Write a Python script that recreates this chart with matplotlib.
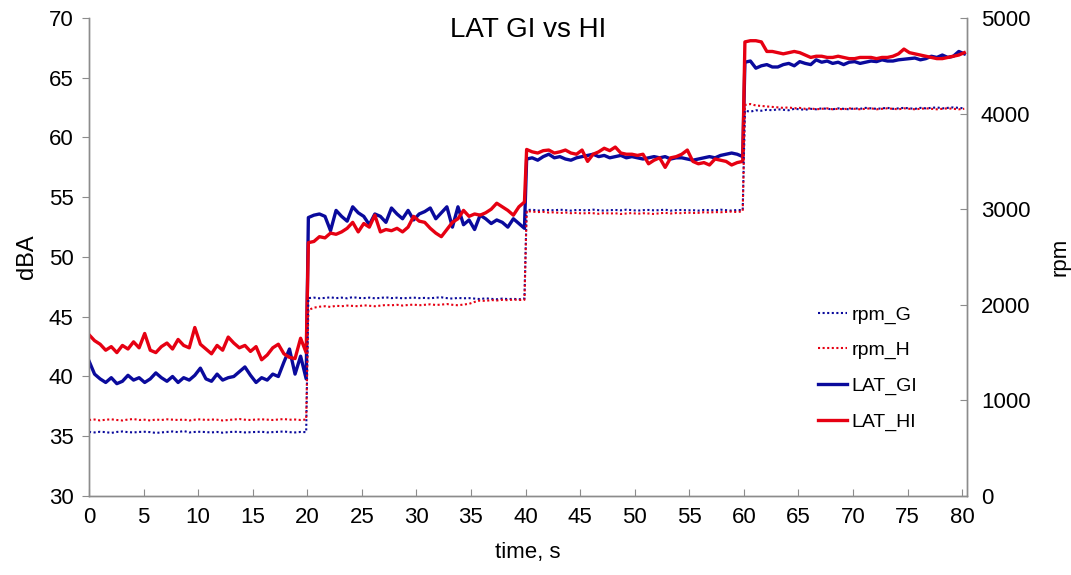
import numpy as np
import matplotlib
matplotlib.use("Agg")
import matplotlib.pyplot as plt

plt.rcParams['font.family'] = ['Liberation Sans', 'DejaVu Sans']

# time axis: four 20 s steps, ~0.5 s sampling inside each step
time_s = np.concatenate([
    np.linspace(0.0, 19.9, 40),
    np.linspace(20.1, 39.9, 40),
    np.linspace(40.1, 59.9, 40),
    np.linspace(60.1, 80.2, 41),
])

# LAT_GI (dBA)
lat_gi = [
    41.3, 40.2, 39.8, 39.5, 39.9, 39.4, 39.6, 40.1, 39.7, 39.9,
    39.5, 39.8, 40.3, 39.9, 39.6, 40.0, 39.5, 39.9, 39.7, 40.1,
    40.7, 39.8, 39.6, 40.2, 39.7, 39.9, 40.0, 40.4, 40.8, 40.1,
    39.5, 39.9, 39.7, 40.2, 40.0, 41.2, 42.3, 40.2, 41.7, 39.8,
    53.3, 53.5, 53.6, 53.4, 52.2, 53.9, 53.4, 53.0, 54.2, 53.7,
    53.4, 52.7, 53.6, 53.4, 52.9, 54.1, 53.6, 53.2, 53.9, 53.1,
    53.6, 53.8, 54.1, 53.2, 53.7, 54.2, 52.5, 54.2, 52.7, 53.1,
    52.3, 53.5, 53.2, 52.8, 53.1, 52.9, 52.5, 53.2, 52.8, 52.4,
    58.2, 58.3, 58.1, 58.4, 58.6, 58.3, 58.4, 58.2, 58.1, 58.3,
    58.4, 58.5, 58.6, 58.4, 58.5, 58.3, 58.4, 58.5, 58.3, 58.4,
    58.3, 58.2, 58.3, 58.4, 58.3, 58.4, 58.2, 58.3, 58.3, 58.2,
    58.1, 58.2, 58.3, 58.4, 58.3, 58.5, 58.6, 58.7, 58.6, 58.4,
    66.3, 66.4, 65.8, 66.0, 66.1, 65.9, 65.9, 66.1, 66.2, 66.0,
    66.35, 66.2, 66.1, 66.5, 66.3, 66.4, 66.2, 66.3, 66.1, 66.3,
    66.35, 66.2, 66.3, 66.4, 66.35, 66.5, 66.4, 66.4, 66.5, 66.55,
    66.6, 66.65, 66.5, 66.6, 66.8, 66.7, 66.9, 66.7, 66.8, 67.2,
    67.0,
]

# LAT_HI (dBA)
lat_hi = [
    43.5, 43.0, 42.7, 42.2, 42.5, 42.0, 42.6, 42.3, 42.9, 42.4,
    43.6, 42.2, 42.0, 42.5, 42.8, 42.3, 43.1, 42.6, 42.4, 44.1,
    42.7, 42.3, 41.9, 42.6, 42.2, 43.3, 42.8, 42.4, 42.6, 42.1,
    42.5, 41.4, 41.8, 42.4, 42.7, 41.9, 41.6, 41.5, 43.2, 42.0,
    51.2, 51.3, 51.7, 51.6, 52.0, 51.9, 52.1, 52.4, 52.9, 52.1,
    52.8, 52.5, 53.5, 52.1, 52.3, 52.2, 52.4, 52.1, 52.5, 53.4,
    53.0, 52.9, 52.4, 52.0, 51.7, 52.3, 52.9, 53.2, 53.9, 53.4,
    53.6, 53.5, 53.7, 54.0, 54.5, 54.2, 53.9, 53.5, 54.2, 54.6,
    59.0, 58.8, 58.7, 58.9, 58.95, 58.7, 58.8, 58.95, 58.7, 58.6,
    58.95, 58.0, 58.6, 58.8, 59.1, 58.9, 59.2, 58.7, 58.6, 58.6,
    58.5, 58.6, 57.8, 58.1, 58.3, 57.5, 58.3, 58.4, 58.6, 58.95,
    58.0, 57.8, 57.9, 57.7, 58.2, 58.1, 58.0, 57.7, 57.9, 58.0,
    68.0, 68.1, 68.1, 68.0, 67.2, 67.2, 67.1, 67.0, 67.1, 67.2,
    67.1, 66.9, 66.7, 66.8, 66.8, 66.7, 66.7, 66.8, 66.7, 66.6,
    66.6, 66.7, 66.7, 66.7, 66.6, 66.7, 66.7, 66.8, 67.0, 67.4,
    67.1, 67.0, 66.9, 66.8, 66.7, 66.6, 66.6, 66.7, 66.8, 66.9,
    67.1,
]

# rpm_G
rpm_g = [
    670, 665, 672, 668, 660, 670, 675, 668, 665, 670,
    672, 668, 660, 665, 670, 675, 668, 680, 665, 670,
    672, 668, 665, 670, 662, 668, 672, 670, 665, 668,
    670, 672, 665, 668, 670, 675, 668, 665, 670, 668,
    2070, 2075, 2068, 2072, 2078, 2070, 2075, 2068, 2080, 2072,
    2070, 2075, 2068, 2072, 2078, 2070, 2074, 2068, 2072, 2075,
    2070, 2072, 2068, 2075, 2078, 2070, 2065, 2072, 2068, 2070,
    2065, 2060, 2068, 2062, 2058, 2065, 2060, 2062, 2058, 2065,
    2990, 2995, 2985, 2990, 2992, 2988, 2995, 2990, 2985, 2992,
    2990, 2988, 2995, 2990, 2985, 2990, 2992, 2988, 2995, 2990,
    2985, 2990, 2992, 2988, 2990, 2995, 2985, 2990, 2992, 2988,
    2990, 2985, 2992, 2990, 2988, 2995, 2990, 2985, 2992, 2990,
    4030, 4020, 4035, 4030, 4040, 4035, 4045, 4040, 4035, 4050,
    4045, 4040, 4050, 4045, 4055, 4050, 4045, 4055, 4050, 4045,
    4055, 4050, 4060, 4055, 4050, 4055, 4060, 4050, 4055, 4060,
    4055, 4050, 4060, 4055, 4060, 4065, 4055, 4060, 4065, 4060,
    4055,
]

# rpm_H
rpm_h = [
    795, 800, 790, 798, 802, 795, 790, 800, 805, 795,
    798, 790, 800, 795, 802, 798, 795, 800, 790, 798,
    802, 795, 800, 798, 790, 795, 800, 805, 798, 795,
    800, 802, 798, 795, 800, 805, 798, 800, 795, 800,
    1945, 1970, 1980, 1985, 1978, 1990, 1985, 1992, 1988, 1985,
    1995, 1990, 1985, 1992, 1998, 1995, 2000, 1992, 1998, 2002,
    1995, 2000, 2005, 1998, 2002, 2008, 2000, 1995, 2002, 2010,
    2030, 2045, 2040, 2050, 2045, 2052, 2048, 2055, 2050, 2052,
    2980, 2975, 2970, 2972, 2965, 2968, 2960, 2965, 2958, 2962,
    2955, 2960, 2958, 2952, 2960, 2955, 2958, 2950, 2955, 2960,
    2952, 2958, 2955, 2950, 2958, 2962, 2955, 2960, 2958, 2965,
    2960, 2962, 2968, 2965, 2970, 2968, 2972, 2975, 2970, 2978,
    4090, 4100, 4085, 4080, 4075, 4070, 4065, 4060, 4065, 4055,
    4060, 4050, 4055, 4045, 4050, 4055, 4045, 4050, 4045, 4055,
    4050, 4045, 4050, 4055, 4045, 4050, 4055, 4050, 4045, 4055,
    4050, 4045, 4050, 4055, 4050, 4045, 4050, 4055, 4050, 4045,
    4050,
]

for name, arr in [('lat_gi', lat_gi), ('lat_hi', lat_hi), ('rpm_g', rpm_g), ('rpm_h', rpm_h)]:
    assert len(arr) == len(time_s), f"{name} has {len(arr)} values, expected {len(time_s)}"

x_ticks = list(range(0, 81, 5))
y_ticks = list(range(30, 71, 5))
rpm_ticks = list(range(0, 5001, 1000))

BLUE = '#0a0a9c'
RED = '#e60012'
GRAY = '#8c8c8c'

fig = plt.figure(figsize=(10.71, 5.75), dpi=100)
ax = fig.add_axes([89/1071, 1 - 496/575, (967 - 89)/1071, (496 - 18)/575])
ax2 = ax.twinx()

l3, = ax.plot(time_s, lat_gi, color=BLUE, lw=2.4, label='LAT_GI', zorder=3)
l4, = ax.plot(time_s, lat_hi, color=RED, lw=2.4, label='LAT_HI', zorder=4)
l1, = ax2.plot(time_s, rpm_g, color=BLUE, lw=1.5, ls=(0, (1, 1.2)), label='rpm_G')
l2, = ax2.plot(time_s, rpm_h, color=RED, lw=1.5, ls=(0, (1, 1.2)), label='rpm_H')

ax.set_xlim(0, 80.45)
ax.set_ylim(30, 70)
ax2.set_ylim(0, 5000)
ax.set_xticks(x_ticks)
ax.set_yticks(y_ticks)
ax2.set_yticks(rpm_ticks)

for a in (ax, ax2):
    a.spines['top'].set_visible(False)
    for s in ('left', 'right', 'bottom'):
        a.spines[s].set_color(GRAY)
        a.spines[s].set_linewidth(1.0)

ax.tick_params(axis='y', direction='out', length=5, color=GRAY, labelsize=16, pad=6)
ax.tick_params(axis='x', direction='in', length=5, color=GRAY, labelsize=16, pad=8)
ax2.tick_params(axis='y', direction='in', length=5, color=GRAY, labelsize=16, pad=10)

ax.set_xlabel('time, s', fontsize=16, labelpad=10)
ax.set_ylabel('dBA', fontsize=17, labelpad=8)
ax2.set_ylabel('rpm', fontsize=16, labelpad=14)

fig.text(528/1071, 1 - 30/575, 'LAT GI vs HI', ha='center', va='center', fontsize=20)

ax2.legend(handles=[l1, l2, l3, l4], loc='upper left',
           bbox_to_anchor=(810/1071, 1 - 298/575), bbox_transform=fig.transFigure,
           frameon=False, fontsize=14, handlelength=1.5, handletextpad=0.25,
           labelspacing=0.92, borderaxespad=0)

fig.savefig('out.png', dpi=100)
